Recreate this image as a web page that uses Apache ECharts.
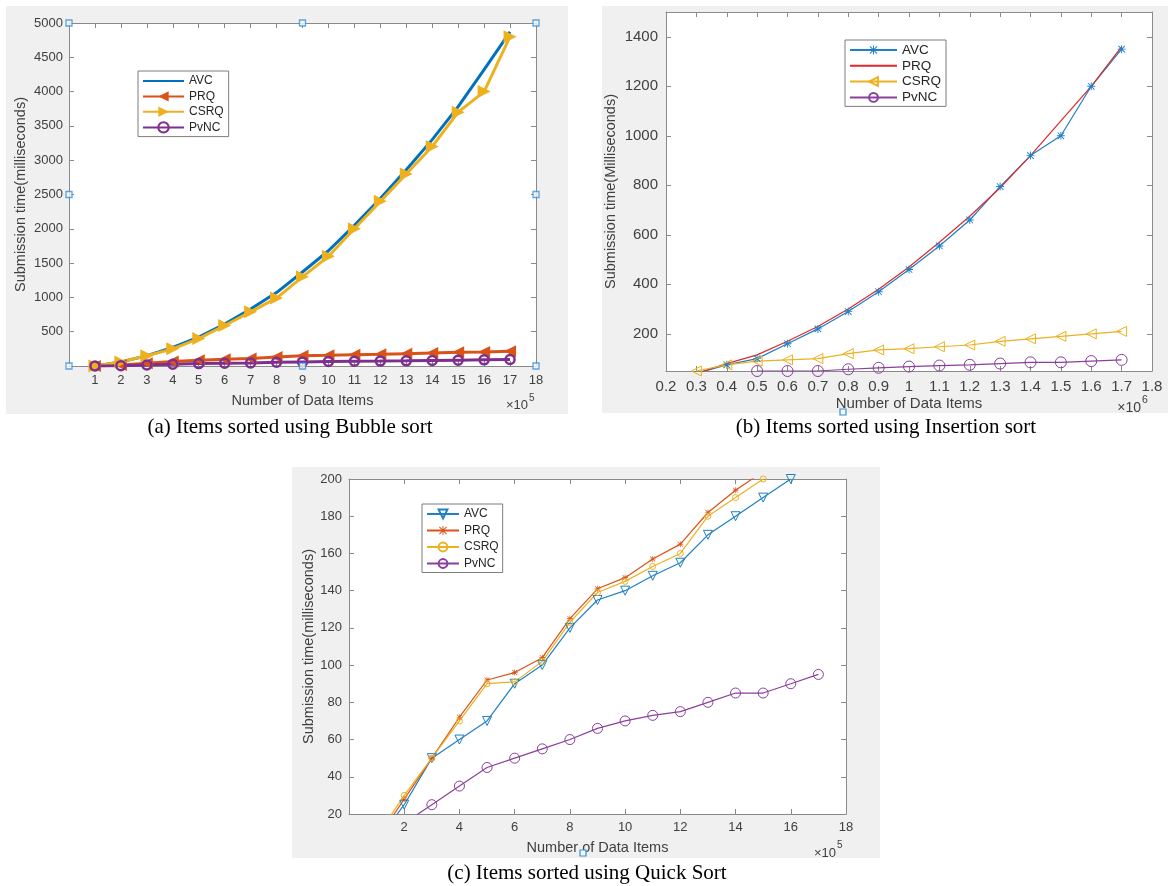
<!DOCTYPE html>
<html>
<head>
<meta charset="utf-8">
<script src="https://cdn.jsdelivr.net/npm/echarts@6/dist/echarts.min.js"></script>
<style>
  html, body { margin: 0; padding: 0; background: #ffffff; }
  #chart { width: 1171px; height: 886px; }
</style>
</head>
<body>
<div id="chart"></div>
<script>
// ---------- (a) Bubble sort: x in units of 1e5 items, y in ms ----------
const bubbleItems = [1, 2, 3, 4, 5, 6, 7, 8, 9, 10, 11, 12, 13, 14, 15, 16, 17];
const bubbleAVC  = [0, 60, 150, 270, 420, 610, 830, 1070, 1370, 1680, 2050, 2440, 2860, 3300, 3780, 4320, 4870];
const bubblePRQ  = [0, 15, 40, 65, 85, 100, 110, 130, 150, 155, 165, 170, 180, 190, 200, 205, 215];
const bubbleCSRQ = [0, 60, 150, 250, 400, 590, 790, 990, 1300, 1600, 2000, 2400, 2800, 3200, 3700, 4000, 4800];
const bubblePvNC = [0, 5, 15, 25, 35, 40, 45, 55, 60, 65, 70, 72, 75, 80, 85, 90, 95];
const bubbleXTicks = [1, 2, 3, 4, 5, 6, 7, 8, 9, 10, 11, 12, 13, 14, 15, 16, 17, 18];
const bubbleYTicks = [500, 1000, 1500, 2000, 2500, 3000, 3500, 4000, 4500, 5000];
// selection handles around the axes box (axis coordinates)
const bubbleHandles = [[0, 0], [0, 2500], [0, 5000], [9, 5000], [18, 5000], [18, 2500], [18, 0], [9, 0]];

// ---------- (b) Insertion sort: x in units of 1e6 items ----------
const insertionItems = [0.3, 0.4, 0.5, 0.6, 0.7, 0.8, 0.9, 1.0, 1.1, 1.2, 1.3, 1.4, 1.5, 1.6, 1.7];
const insertionAVC  = [40, 75, 100, 160, 220, 290, 370, 460, 555, 660, 795, 920, 1000, 1200, 1350];
const insertionPRQ  = [40, 80, 115, 170, 230, 300, 380, 470, 570, 675, 790, 920, 1060, 1200, 1360];
const insertionCSRQ = [50, 75, 90, 95, 100, 120, 135, 140, 148, 155, 170, 180, 190, 200, 210];
const insertionPvNC = [null, null, 50, 50, 50, 57, 63, 68, 72, 75, 80, 85, 85, 90, 95];
const insertionXTicks = [0.2, 0.3, 0.4, 0.5, 0.6, 0.7, 0.8, 0.9, 1.0, 1.1, 1.2, 1.3, 1.4, 1.5, 1.6, 1.7, 1.8];
const insertionYTicks = [200, 400, 600, 800, 1000, 1200, 1400];

// ---------- (c) Quick sort: x in units of 1e5 items ----------
const quickItems = [1, 2, 3, 4, 5, 6, 7, 8, 9, 10, 11, 12, 13, 14, 15, 16, 17];
const quickAVC  = [5, 25, 50, 60, 70, 90, 100, 120, 135, 140, 148, 155, 170, 180, 190, 200, null];
const quickPRQ  = [6, 28, 50, 72, 92, 96, 104, 125, 141, 147, 157, 165, 182, 194, 204, null, null];
const quickCSRQ = [8, 30, 50, 70, 90, 91, 102, 123, 139, 145, 153, 160, 180, 190, 200, null, null];
const quickPvNC = [null, 15, 25, 35, 45, 50, 55, 60, 66, 70, 73, 75, 80, 85, 85, 90, 95];
const quickXTicks = [2, 4, 6, 8, 10, 12, 14, 16, 18];
const quickYTicks = [20, 40, 60, 80, 100, 120, 140, 160, 180, 200];

const methods = ['AVC', 'PRQ', 'CSRQ', 'PvNC'];

// ---------- styling ----------
const SANS = '"Liberation Sans", Arial, Helvetica, sans-serif';
const SERIF = '"Liberation Serif", "Times New Roman", serif';
const AXIS_GRAY = '#8a8a8a';
const TEXT = '#404040';
const FIG_BG = '#f0f0f0';
const HANDLE = '#3b8fd6';
const CLEAR = 'rgba(255,255,255,0)';
const ASTERISK = 'path://M0,4.45H10V5.55H0Z M4.45,0H5.55V10H4.45Z M1.3,0.5L9.5,8.7L8.7,9.5L0.5,1.3Z M8.7,0.5L9.5,1.3L1.3,9.5L0.5,8.7Z';

const plainNumber = v => String(Math.round(v * 10) / 10);

function makeAxes(dim, gridIndex, min, max, ticks, o) {
  const line = { show: true, onZero: false, lineStyle: { color: AXIS_GRAY, width: 1 } };
  const tick = { show: true, inside: true, length: o.tickLen, customValues: ticks,
                 lineStyle: { color: AXIS_GRAY, width: 1 } };
  const main = {
    type: 'value', gridIndex, min, max,
    position: dim === 'x' ? 'bottom' : 'left',
    axisLine: line, axisTick: tick,
    axisLabel: { show: true, customValues: ticks, margin: o.margin, color: TEXT,
                 fontFamily: SANS, fontSize: o.fontSize, formatter: plainNumber },
    splitLine: { show: false },
    name: o.name, nameLocation: 'middle', nameGap: o.nameGap,
    nameTextStyle: { color: TEXT, fontFamily: SANS, fontSize: o.nameSize }
  };
  const mirror = {
    type: 'value', gridIndex, min, max,
    position: dim === 'x' ? 'top' : 'right',
    axisLine: line, axisTick: tick,
    axisLabel: { show: false }, splitLine: { show: false }
  };
  return [main, mirror];
}

function pairs(xs, ys) {
  const out = [];
  xs.forEach((x, i) => { if (ys[i] !== null) out.push([x, ys[i]]); });
  return out;
}

function lineSeries(name, axisIndex, xs, ys, s) {
  const open = s.open;
  return {
    type: 'line', name, xAxisIndex: axisIndex, yAxisIndex: axisIndex,
    data: pairs(xs, ys),
    symbol: s.symbol || 'none', symbolSize: s.size || 6, symbolRotate: s.rotate || 0,
    showAllSymbol: true,
    lineStyle: { color: s.color, width: s.width },
    itemStyle: open
      ? { color: CLEAR, borderColor: s.color, borderWidth: s.border || 1 }
      : { color: s.color, borderWidth: 0 },
    emphasis: { disabled: true },
    z: s.z || 2
  };
}

// legend entries; series drawn without markers get a line-only key
function legendFor(prefix, lineOnly, o) {
  return {
    data: methods.map(m => lineOnly.includes(m)
      ? { name: prefix + m, itemStyle: { color: CLEAR, borderColor: CLEAR, borderWidth: 0 } }
      : prefix + m),
    formatter: n => n.slice(prefix.length),
    orient: 'vertical', left: o.left, top: o.top,
    itemWidth: o.itemWidth, itemHeight: o.itemHeight, itemGap: o.itemGap,
    padding: o.padding, backgroundColor: '#ffffff',
    borderColor: '#7d7d7d', borderWidth: 1, borderRadius: 0,
    selectedMode: false,
    textStyle: { color: '#262626', fontFamily: SANS, fontSize: o.fontSize }
  };
}

// ---------- axes ----------
const [ax0, ax1] = makeAxes('x', 0, 0, 18, bubbleXTicks,
  { tickLen: 5, margin: 8, fontSize: 13, name: 'Number of Data Items', nameGap: 27, nameSize: 14.5 });
const [ay0, ay1] = makeAxes('y', 0, 0, 5000, bubbleYTicks,
  { tickLen: 5, margin: 6, fontSize: 13, name: 'Submission time(milliseconds)', nameGap: 41, nameSize: 14.5 });
const [bx0, bx1] = makeAxes('x', 1, 0.2, 1.8, insertionXTicks,
  { tickLen: 5, margin: 8, fontSize: 15, name: 'Number of Data Items', nameGap: 25, nameSize: 15 });
const [by0, by1] = makeAxes('y', 1, 50, 1500, insertionYTicks,
  { tickLen: 5, margin: 8, fontSize: 15, name: 'Submission time(Milliseconds)', nameGap: 48, nameSize: 14.5 });
const [cx0, cx1] = makeAxes('x', 2, 0, 18, quickXTicks,
  { tickLen: 5, margin: 7, fontSize: 13, name: 'Number of Data Items', nameGap: 26, nameSize: 14.5 });
const [cy0, cy1] = makeAxes('y', 2, 20, 200, quickYTicks,
  { tickLen: 5, margin: 7, fontSize: 13, name: 'Submission time(milliseconds)', nameGap: 33, nameSize: 14.5 });

// ---------- series ----------
const BLUE = '#0072BD', ORANGE = '#D95319', YELLOW = '#EDB120', PURPLE = '#7E2F8E';
const series = [
  // (a) bubble sort: thick lines, filled triangles
  lineSeries('a/AVC', 0, bubbleItems, bubbleAVC, { color: BLUE, width: 3 }),
  lineSeries('a/PRQ', 0, bubbleItems, bubblePRQ, { color: ORANGE, width: 3, symbol: 'triangle', rotate: 90, size: 12 }),
  lineSeries('a/CSRQ', 0, bubbleItems, bubbleCSRQ, { color: YELLOW, width: 3, symbol: 'triangle', rotate: -90, size: 13 }),
  lineSeries('a/PvNC', 0, bubbleItems, bubblePvNC, { color: PURPLE, width: 3, symbol: 'circle', size: 9, open: true, border: 2.5 }),
  {
    type: 'scatter', name: 'handles', xAxisIndex: 0, yAxisIndex: 0, data: bubbleHandles,
    symbol: 'rect', symbolSize: 6, clip: false, silent: true, z: 10,
    itemStyle: { color: '#f2f8fd', borderColor: HANDLE, borderWidth: 1.3 }
  },
  // (b) insertion sort: thin lines, open markers
  lineSeries('b/AVC', 2, insertionItems, insertionAVC, { color: '#1f80c4', width: 1.2, symbol: ASTERISK, size: 8 }),
  lineSeries('b/PRQ', 2, insertionItems, insertionPRQ, { color: '#e0282a', width: 1.2 }),
  lineSeries('b/CSRQ', 2, insertionItems, insertionCSRQ, { color: YELLOW, width: 1.2, symbol: 'triangle', rotate: 90, size: 10, open: true }),
  lineSeries('b/PvNC', 2, insertionItems, insertionPvNC, { color: '#8a3f9c', width: 1.2, symbol: 'circle', size: 11, open: true }),
  // (c) quick sort
  lineSeries('c/AVC', 4, quickItems, quickAVC, { color: '#1f80c4', width: 1.2, symbol: 'triangle', rotate: 180, size: 9, open: true }),
  lineSeries('c/PRQ', 4, quickItems, quickPRQ, { color: ORANGE, width: 1.2, symbol: ASTERISK, size: 6 }),
  lineSeries('c/CSRQ', 4, quickItems, quickCSRQ, { color: YELLOW, width: 1.2, symbol: 'circle', size: 6, open: true }),
  lineSeries('c/PvNC', 4, quickItems, quickPvNC, { color: '#8a3f9c', width: 1.2, symbol: 'circle', size: 10, open: true })
];

// ---------- figure decorations: panel backgrounds, captions, exponents ----------
function txt(text, x, y, size, family, color, align) {
  return { type: 'text', x, y, silent: true, z: 50,
           style: { text, fill: color, font: size + 'px ' + family, align: align || 'center', verticalAlign: 'middle' } };
}
function handleBox(x, y) {
  return { type: 'rect', x: x - 3, y: y - 3, shape: { width: 6, height: 6 }, silent: true, z: 60,
           style: { fill: '#f2f8fd', stroke: HANDLE, lineWidth: 1.2 } };
}
const graphic = [
  { type: 'rect', x: 6, y: 6, shape: { width: 562, height: 408 }, style: { fill: FIG_BG }, z: -100, silent: true },
  { type: 'rect', x: 602, y: 6, shape: { width: 566, height: 407 }, style: { fill: FIG_BG }, z: -100, silent: true },
  { type: 'rect', x: 292, y: 467, shape: { width: 588, height: 391 }, style: { fill: FIG_BG }, z: -100, silent: true },
  txt('(a) Items sorted using Bubble sort', 290, 427, 21, SERIF, '#000000'),
  txt('(b) Items sorted using Insertion sort', 886, 427, 21, SERIF, '#000000'),
  txt('(c) Items sorted using Quick Sort', 587, 873, 21, SERIF, '#000000'),
  txt('\u00d710', 528, 405, 13, SANS, TEXT, 'right'),
  txt('5', 529, 398, 10, SANS, TEXT, 'left'),
  txt('\u00d710', 1141, 408, 14, SANS, TEXT, 'right'),
  txt('6', 1142, 400, 10.5, SANS, TEXT, 'left'),
  txt('\u00d710', 836, 853, 13, SANS, TEXT, 'right'),
  txt('5', 837, 845, 10, SANS, TEXT, 'left'),
  handleBox(843, 412),
  handleBox(583, 853)
];

const option = {
  animation: false,
  backgroundColor: '#ffffff',
  grid: [
    { left: 69, top: 23, width: 467, height: 343, show: true, backgroundColor: '#ffffff', borderWidth: 0 },
    { left: 666, top: 12, width: 486, height: 359, show: true, backgroundColor: '#ffffff', borderWidth: 0 },
    { left: 349, top: 479, width: 497, height: 335, show: true, backgroundColor: '#ffffff', borderWidth: 0 }
  ],
  xAxis: [ax0, ax1, bx0, bx1, cx0, cx1],
  yAxis: [ay0, ay1, by0, by1, cy0, cy1],
  legend: [
    legendFor('a/', ['AVC'], { left: 138, top: 71, itemWidth: 41, itemHeight: 13, itemGap: 3.4, padding: [4, 5, 3, 4], fontSize: 12 }),
    legendFor('b/', ['PRQ'], { left: 845, top: 40, itemWidth: 47, itemHeight: 11, itemGap: 1.8, padding: [3, 5, 2, 4], fontSize: 13.5 }),
    legendFor('c/', [], { left: 422, top: 504, itemWidth: 32, itemHeight: 11, itemGap: 4.5, padding: [4, 4, 3, 4], fontSize: 12 })
  ],
  graphic,
  series
};

const chart = echarts.init(document.getElementById('chart'), null, { renderer: 'canvas' });
chart.setOption(option);
</script>
</body>
</html>
